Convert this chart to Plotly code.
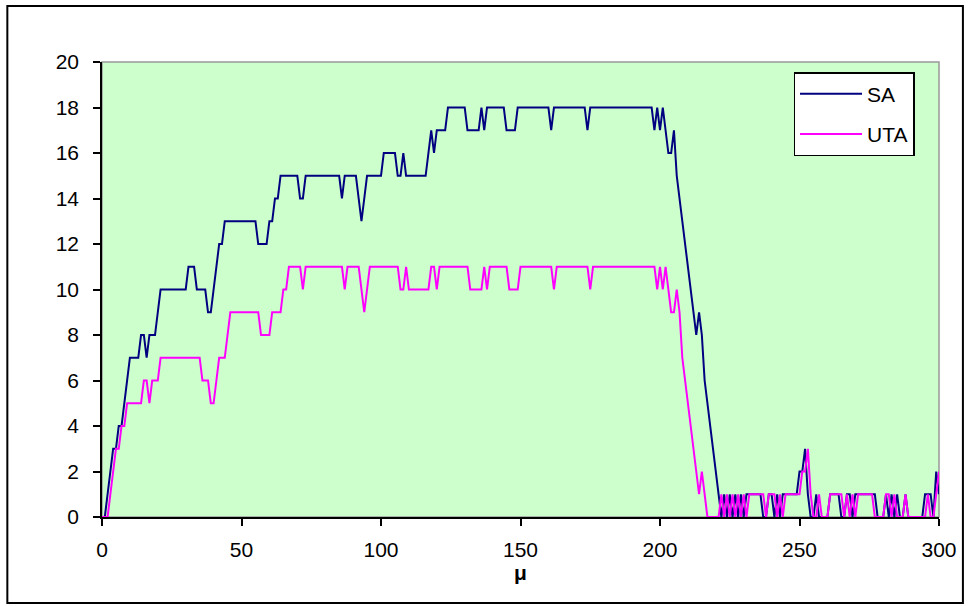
import plotly.graph_objects as go

# x values: mu = 0 .. 300 (step 1)
mu = list(range(0, 301))

sa = [
    0, 0, 1, 2, 3, 3, 4, 4, 5, 6,
    7, 7, 7, 7, 8, 8, 7, 8, 8, 8,
    9, 10, 10, 10, 10, 10, 10, 10, 10, 10,
    10, 11, 11, 11, 10, 10, 10, 10, 9, 9,
    10, 11, 12, 12, 13, 13, 13, 13, 13, 13,
    13, 13, 13, 13, 13, 13, 12, 12, 12, 12,
    13, 13, 14, 14, 15, 15, 15, 15, 15, 15,
    15, 14, 14, 15, 15, 15, 15, 15, 15, 15,
    15, 15, 15, 15, 15, 15, 14, 15, 15, 15,
    15, 15, 14, 13, 14, 15, 15, 15, 15, 15,
    15, 16, 16, 16, 16, 16, 15, 15, 16, 15,
    15, 15, 15, 15, 15, 15, 15, 16, 17, 16,
    17, 17, 17, 17, 18, 18, 18, 18, 18, 18,
    18, 17, 17, 17, 17, 17, 18, 17, 18, 18,
    18, 18, 18, 18, 18, 17, 17, 17, 17, 18,
    18, 18, 18, 18, 18, 18, 18, 18, 18, 18,
    18, 17, 18, 18, 18, 18, 18, 18, 18, 18,
    18, 18, 18, 18, 17, 18, 18, 18, 18, 18,
    18, 18, 18, 18, 18, 18, 18, 18, 18, 18,
    18, 18, 18, 18, 18, 18, 18, 18, 17, 18,
    17, 18, 17, 16, 16, 17, 15, 14, 13, 12,
    11, 10, 9, 8, 9, 8, 6, 5, 4, 3,
    2, 1, 0, 1, 0, 1, 0, 1, 0, 1,
    0, 1, 1, 1, 1, 1, 1, 0, 0, 1,
    1, 0, 1, 0, 1, 1, 1, 1, 1, 1,
    2, 2, 3, 1, 0, 0, 1, 0, 0, 0,
    0, 1, 1, 1, 1, 0, 0, 1, 1, 0,
    1, 1, 1, 1, 1, 1, 1, 1, 0, 0,
    0, 1, 0, 1, 0, 1, 0, 0, 1, 0,
    0, 0, 0, 0, 0, 1, 1, 1, 0, 2,
    1,
]

uta = [
    0, 0, 0, 1, 2, 3, 3, 4, 4, 5,
    5, 5, 5, 5, 5, 6, 6, 5, 6, 6,
    6, 7, 7, 7, 7, 7, 7, 7, 7, 7,
    7, 7, 7, 7, 7, 7, 6, 6, 6, 5,
    5, 6, 7, 7, 7, 8, 9, 9, 9, 9,
    9, 9, 9, 9, 9, 9, 9, 8, 8, 8,
    8, 9, 9, 9, 9, 10, 10, 11, 11, 11,
    11, 11, 10, 11, 11, 11, 11, 11, 11, 11,
    11, 11, 11, 11, 11, 11, 11, 10, 11, 11,
    11, 11, 11, 10, 9, 10, 11, 11, 11, 11,
    11, 11, 11, 11, 11, 11, 11, 10, 10, 11,
    10, 10, 10, 10, 10, 10, 10, 10, 11, 11,
    10, 11, 11, 11, 11, 11, 11, 11, 11, 11,
    11, 11, 10, 10, 10, 10, 10, 11, 10, 11,
    11, 11, 11, 11, 11, 11, 10, 10, 10, 10,
    11, 11, 11, 11, 11, 11, 11, 11, 11, 11,
    11, 11, 10, 11, 11, 11, 11, 11, 11, 11,
    11, 11, 11, 11, 11, 10, 11, 11, 11, 11,
    11, 11, 11, 11, 11, 11, 11, 11, 11, 11,
    11, 11, 11, 11, 11, 11, 11, 11, 11, 10,
    11, 10, 11, 10, 9, 9, 10, 9, 7, 6,
    5, 4, 3, 2, 1, 2, 1, 0, 0, 0,
    0, 0, 1, 0, 1, 0, 1, 0, 1, 0,
    1, 0, 1, 1, 1, 1, 1, 1, 0, 1,
    1, 1, 0, 1, 0, 1, 1, 1, 1, 1,
    1, 2, 2, 3, 1, 0, 0, 1, 0, 0,
    0, 1, 1, 1, 1, 1, 0, 1, 0, 1,
    0, 1, 1, 1, 1, 1, 1, 0, 0, 0,
    0, 1, 1, 0, 1, 0, 0, 0, 1, 0,
    0, 0, 0, 0, 0, 0, 1, 0, 0, 1,
    2,
]

x_ticks = [0, 50, 100, 150, 200, 250, 300]
y_ticks = [0, 2, 4, 6, 8, 10, 12, 14, 16, 18, 20]

FONT = "Liberation Sans, Arial, sans-serif"

fig = go.Figure()
fig.add_trace(go.Scatter(x=mu, y=sa, mode="lines", name="SA", legendgroup="a",
                         line=dict(color="#000080", width=2)))
fig.add_trace(go.Scatter(x=mu, y=uta, mode="lines", name="UTA", legendgroup="b",
                         line=dict(color="#FF00FF", width=2)))

W, H = 969, 606
L, R, T, B = 102, 27, 62, 89
pw, ph = W - L - R, H - T - B


def px(X):
    return (X - L) / pw


def py(Y):
    return (H - B - Y) / ph


fig.update_layout(
    width=W, height=H,
    margin=dict(l=L, r=R, t=T, b=B, pad=0),
    paper_bgcolor="white",
    plot_bgcolor="#CCFFCC",
    font=dict(family=FONT, size=21, color="black"),
    showlegend=True,
    legend=dict(
        x=px(796), y=py(72), xanchor="left", yanchor="top",
        bgcolor="white", bordercolor="black", borderwidth=1.5,
        font=dict(family=FONT, size=21, color="black"),
        traceorder="grouped", tracegroupgap=10,
        itemwidth=62, entrywidth=98,
    ),
    xaxis=dict(
        range=[0, 300], tickvals=x_ticks, ticks="outside", ticklen=7,
        tickwidth=1.5, tickcolor="black", showgrid=False, zeroline=False,
        showline=True, linecolor="black", linewidth=1.5,
        title=dict(text="<b>μ</b>", font=dict(family=FONT, size=21), standoff=4),
        ticklabelstandoff=6,
    ),
    yaxis=dict(
        range=[0, 20], tickvals=y_ticks, ticks="outside", ticklen=7,
        tickwidth=1.5, tickcolor="black", showgrid=False, zeroline=False,
        showline=True, linecolor="black", linewidth=1.5,
        ticklabelstandoff=10,
    ),
    shapes=[
        dict(type="rect", xref="paper", yref="paper", x0=0, x1=1, y0=0, y1=1,
             line=dict(color="#999999", width=1.5), layer="below"),
        dict(type="rect", xref="paper", yref="paper",
             x0=px(7), x1=px(966), y0=py(603), y1=py(6),
             line=dict(color="black", width=2), layer="below"),
    ],
)

fig.write_html(
    "out.html",
    config={"displayModeBar": False},
    post_script="document.body.style.margin='0';document.body.style.padding='0';",
)
